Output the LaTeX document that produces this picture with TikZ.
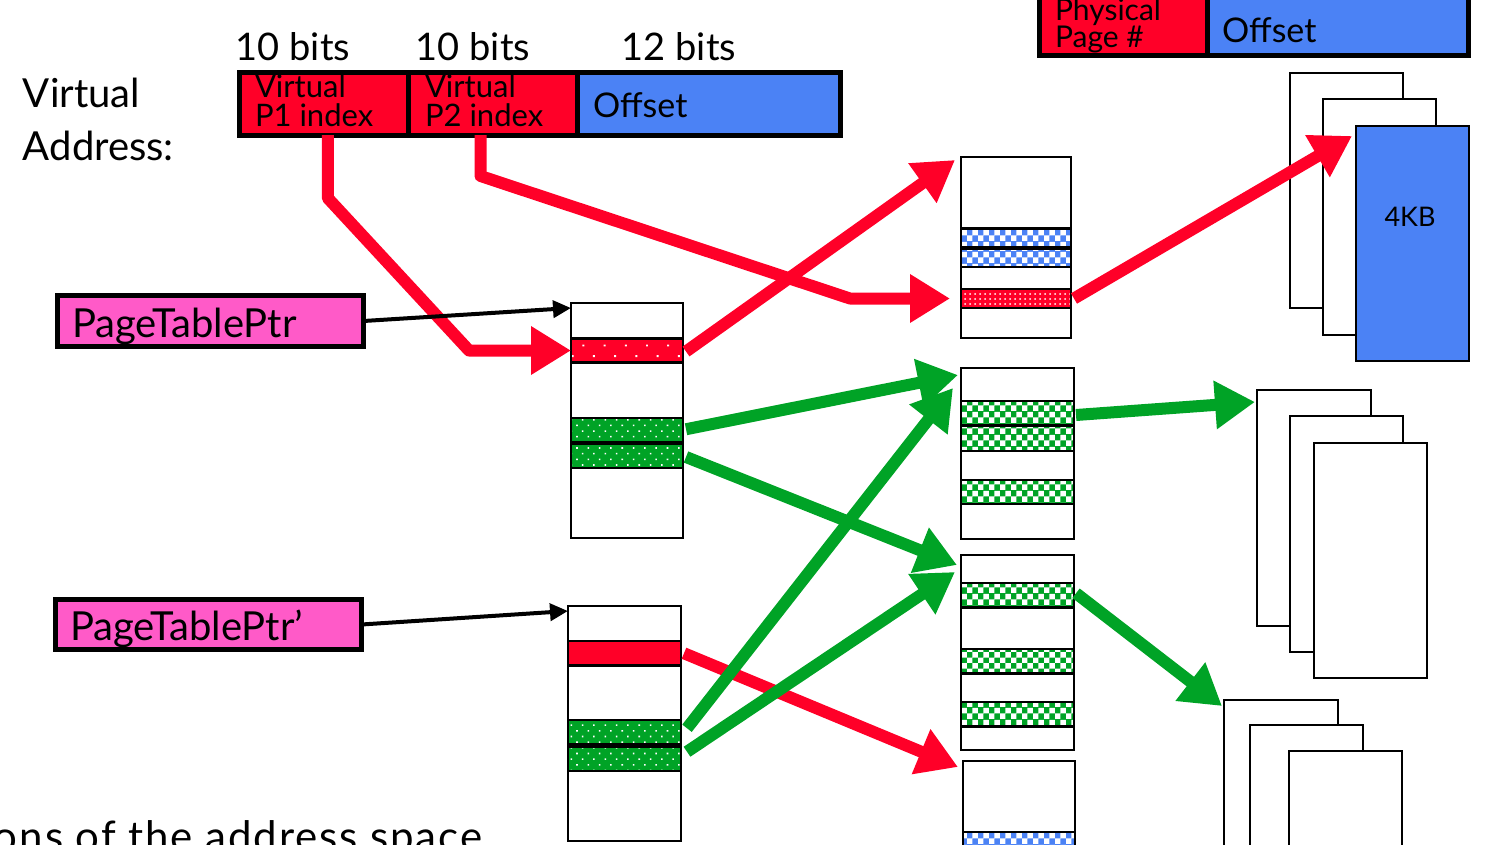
\documentclass[tikz,border=0pt]{standalone}
\usepackage{fontspec}
\setmainfont{Lato}
\usetikzlibrary{arrows.meta,patterns,patterns.meta,calc}
\definecolor{cred}{RGB}{255,0,40}
\definecolor{cgreen}{RGB}{0,163,38}
\definecolor{cblue}{RGB}{75,130,245}
\definecolor{cpink}{RGB}{255,90,200}
\newcommand\mkbox[6]{\node[#6, minimum width={(#4)-(#2)}, minimum height={(#5)-(#3)}] (#1) at ({((#2)+(#4))/2},{((#3)+(#5))/2}) {};}
\newcommand\fs[1]{\fontsize{#1}{#1}\selectfont}
\tikzset{
  base/.style={draw=black, line width=2.5pt, inner sep=0pt, outer sep=0pt},
  tbl/.style={base, fill=white},
  thick box/.style={draw=black, line width=5pt, inner sep=0pt, outer sep=0pt},
  redsolid/.style={base, fill=cred},
  reddots/.style={base, preaction={fill=cred}, pattern={Dots[distance=15pt,radius=1.4pt,angle=45]}, pattern color=white},
  greendots/.style={base, preaction={fill=cgreen}, pattern={Dots[distance=8pt,radius=1.1pt,angle=45]}, pattern color=white},
  redcheck/.style={base, preaction={fill=cred}, pattern={Dots[distance=5pt,radius=1pt]}, pattern color=white},
  greencheck/.style={base, preaction={fill=cgreen}, pattern=checkerboard, pattern color=white},
  bluecheck/.style={base, preaction={fill=cblue}, pattern=checkerboard, pattern color=white},
  lbl/.style={inner sep=0pt, outer sep=0pt, anchor=base west, text=black},
  redarr/.style={draw=cred, line width=12pt, line join=round, -{Triangle[length=40pt,width=46pt]}},
  grnarr/.style={draw=cgreen, line width=12pt, line join=round, -{Triangle[length=40pt,width=46pt]}},
  blkarr/.style={draw=black, line width=4pt, -{Triangle[length=18pt,width=17pt]}},
}
\begin{document}
\begin{tikzpicture}[x=1pt,y=-1pt]
\useasboundingbox (0,0) rectangle (1494,844);
\clip (0,0) rectangle (1494,844);

% ---------- virtual address ----------
\node[lbl, font=\fs{40}] (vtxt1) at (23,107) {Virtual};
\node[lbl, font=\fs{40}] (vtxt2) at (23,160) {Address:};
\node[lbl, anchor=base, font=\fs{38}] (b1) at (293,60) {10 bits};
\node[lbl, anchor=base, font=\fs{38}] (b2) at (473,60) {10 bits};
\node[lbl, anchor=base, font=\fs{38}] (b3) at (679,60) {12 bits};
\mkbox{va1}{239.5}{72.5}{408}{135}{thick box, fill=cred}
\mkbox{va2}{408}{72.5}{577}{135}{thick box, fill=cred}
\mkbox{va3}{577}{72.5}{840.5}{135}{thick box, fill=cblue}
\node[lbl, font=\fs{31}] (va1a) at (255,97) {Virtual};
\node[lbl, font=\fs{31}] (va1b) at (255,126) {P1 index};
\node[lbl, font=\fs{31}] (va2a) at (425,97) {Virtual};
\node[lbl, font=\fs{31}] (va2b) at (425,126) {P2 index};
\node[lbl, font=\fs{34}] (va3t) at (593,117) {Offset};

% ---------- physical address ----------
\mkbox{pa1}{1039.5}{-20}{1207}{55.5}{thick box, fill=cred}
\mkbox{pa2}{1207}{-20}{1468.5}{55.5}{thick box, fill=cblue}
\node[lbl, font=\fs{30}] (pa1a) at (1055,20) {Physical};
\node[lbl, font=\fs{30}] (pa1b) at (1055,47) {Page \#};
\node[lbl, font=\fs{34}] (pa2t) at (1222,42) {Offset};

% ---------- page table pointers ----------
\mkbox{ptr1}{57.5}{295.5}{363.5}{346.5}{thick box, fill=cpink}
\mkbox{ptr2}{55.5}{599.5}{361.5}{649.5}{thick box, fill=cpink}
\node[lbl, font=\fs{40}] (ptr1t) at (72,337) {PageTablePtr};
\node[lbl, font=\fs{40}] (ptr2t) at (70,640) {PageTablePtr’};

% ---------- level-1 tables ----------
\mkbox{tA}{571}{303}{683}{538}{tbl}
\mkbox{rA1}{571}{338.5}{683}{362.5}{reddots}
\mkbox{gA1}{571}{418}{683}{442.5}{greendots}
\mkbox{gA2}{571}{444}{683}{468}{greendots}

\mkbox{tB}{568}{606}{681}{841}{tbl}
\mkbox{rB1}{568}{641}{681}{665.5}{redsolid}
\mkbox{gB1}{568}{720}{681}{744.5}{greendots}
\mkbox{gB2}{568}{746.5}{681}{771}{greendots}

% ---------- level-2 tables ----------
\mkbox{T1}{961}{157}{1071}{338}{tbl}
\mkbox{bT1a}{961}{228.5}{1071}{247.5}{bluecheck}
\mkbox{bT1b}{961}{248.5}{1071}{267}{bluecheck}
\mkbox{rT1}{961}{289}{1071}{308}{redcheck}

\mkbox{T2}{961}{368}{1074}{539}{tbl}
\mkbox{g2a}{961}{401}{1074}{425}{greencheck}
\mkbox{g2b}{961}{426}{1074}{451}{greencheck}
\mkbox{g2c}{961}{480}{1074}{504}{greencheck}

\mkbox{T3}{961}{555}{1074}{750}{tbl}
\mkbox{g3a}{961}{583}{1074}{607.5}{greencheck}
\mkbox{g3b}{961}{649}{1074}{673.5}{greencheck}
\mkbox{g3c}{961}{702}{1074}{726.5}{greencheck}

\mkbox{T4}{963}{761}{1075}{900}{tbl}
\mkbox{bT4}{963}{832}{1075}{856}{bluecheck}

% ---------- pages ----------
\mkbox{s1a}{1290}{73}{1403}{308}{tbl}
\mkbox{s1b}{1323}{99}{1436}{335}{tbl}
\mkbox{s1c}{1356}{126}{1469}{361}{base, fill=cblue}
\node[inner sep=0pt, font=\fs{27}] (kb) at (1410,217) {4KB};

\mkbox{s2a}{1257}{390}{1371}{626}{tbl}
\mkbox{s2b}{1290}{416}{1403}{652}{tbl}
\mkbox{s2c}{1314}{443}{1427}{678}{tbl}

\mkbox{s3a}{1224}{700}{1338}{900}{tbl}
\mkbox{s3b}{1250}{725}{1363}{900}{tbl}
\mkbox{s3c}{1289}{751}{1402}{900}{tbl}

% ---------- connectors ----------
\draw[redarr] ([xshift=4pt]va1.south) -- ++(0,63) -- ([xshift=-102pt]rA1.west) -- (rA1.west);
\draw[redarr] ([xshift=-12pt]va2.south) -- ++(0,41) -- ([xshift=-111pt]rT1.west) -- ([xshift=-11pt]rT1.west);
\draw[redarr] ([xshift=3pt,yshift=-1pt]rA1.east) -- ([xshift=-6pt,yshift=-3pt]T1.north west);
\draw[redarr] ([xshift=3pt]rT1.east) -- ([xshift=-4pt,yshift=-10pt]s1c.north west);
\draw[redarr] ([xshift=3pt]rB1.east) -- ([xshift=-5pt,yshift=-6pt]T4.north west);

\draw[grnarr] ([xshift=3pt,yshift=1pt]gA1.east) -- ([xshift=-3pt,yshift=-7pt]T2.north west);
\draw[grnarr] ([xshift=3pt,yshift=-1pt]gA2.east) -- ([xshift=-4pt,yshift=-10pt]T3.north west);
\draw[grnarr] ([xshift=6pt,yshift=4pt]gB1.east) -- ([xshift=-8pt,yshift=-20pt]T2.north west);
\draw[grnarr] ([xshift=6pt,yshift=7pt]gB2.east) -- ([xshift=-6pt,yshift=-17pt]T3.north west);
\draw[grnarr] ([xshift=2pt,yshift=-2pt]g2a.east) -- ([xshift=-2pt,yshift=-12pt]s2a.north west);
\draw[grnarr] ([xshift=2pt,yshift=2pt]g3a.east) -- ([xshift=-2pt,yshift=-6pt]s3a.north west);

\draw[blkarr] (ptr1.east) -- ([yshift=-5pt]tA.north west);
\draw[blkarr] (ptr2.east) -- ([yshift=-5pt]tB.north west);

% ---------- cut-off caption ----------
\node[lbl, font=\fs{42}\addfontfeatures{LetterSpace=4.5}] (cap) at (-6,851) {ons of the address space};
\end{tikzpicture}
\end{document}
